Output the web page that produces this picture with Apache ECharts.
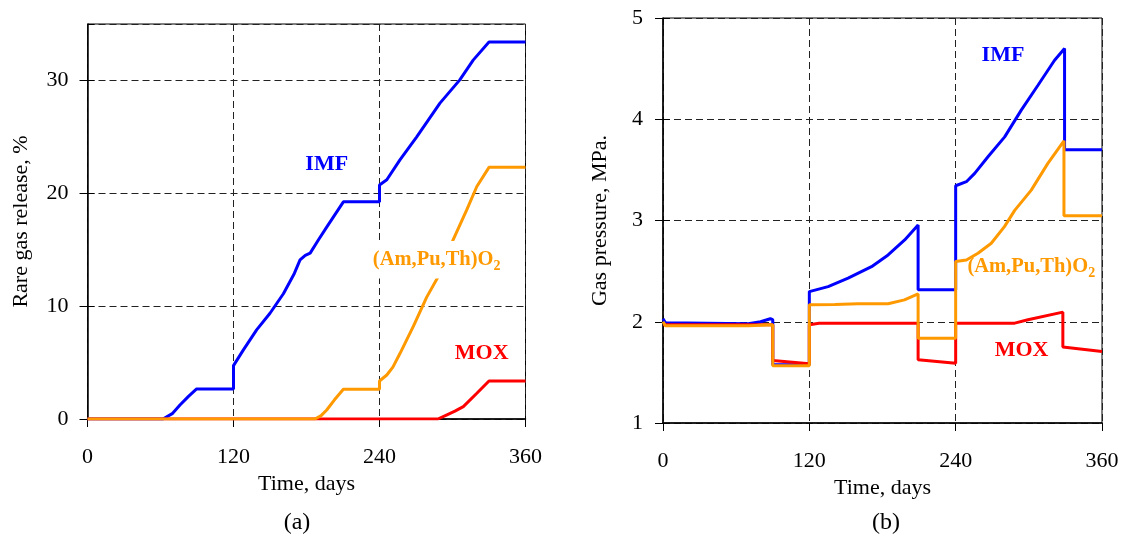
<!DOCTYPE html>
<html>
<head>
<meta charset="utf-8">
<script src="https://cdn.jsdelivr.net/npm/echarts@6/dist/echarts.min.js"></script>
<style>
  html, body { margin: 0; padding: 0; background: #fff; }
  #chart { width: 1126px; height: 542px; }
</style>
</head>
<body>
<div id="chart"></div>
<script>
const FONT = '"Times New Roman", "Liberation Serif", serif';
const BLUE = '#0000ff', ORANGE = '#ff9900', RED = '#ff0000';

// Time axis (days), shared by both panels
const timeMin = 0, timeMax = 360, timeStep = 120;

// Panel (a): rare gas release, %  — [day, value]
const releaseIMF = [[0,0],[62,0],[70,0.5],[76,1.24],[83,2.0],[89.7,2.66],[120,2.66],[120,4.73],[128,6.1],[139,7.9],[150,9.37],[161,11.1],[170,12.9],[174.7,14.1],[179,14.5],[183,14.7],[190,15.9],[196.6,17.0],[210.3,19.24],[240,19.24],[240,20.74],[246,21.2],[256.8,22.96],[270.6,25.0],[289.7,27.99],[306,30.05],[317,31.8],[330,33.4],[360,33.4]];
const releaseAmPuTh = [[0,0],[187,0],[192,0.3],[196.6,0.8],[203,1.7],[210.3,2.63],[240,2.63],[240,3.37],[246,3.9],[251,4.6],[256.8,5.8],[267.8,8.2],[278.8,10.8],[289.7,12.9],[300.6,15.9],[311.6,18.5],[320,20.6],[330,22.3],[360,22.3]];
const releaseMOX = [[0,0],[288,0],[295,0.35],[302,0.7],[308.9,1.1],[320,2.28],[330,3.37],[360,3.37]];
const releaseAxis = { min: 0, max: 35, step: 10 };

// Panel (b): gas pressure, MPa — [day, value]
const pressureIMF = [[0,2.03],[2,1.99],[70,1.98],[80,2.0],[88,2.03],[90,2.02],[90,1.575],[120,1.575],[120,2.298],[135.4,2.347],[151.8,2.43],[171,2.544],[184.6,2.66],[198.2,2.808],[209.2,2.956],[209.2,2.315],[240,2.315],[240,3.343],[248.8,3.383],[255.6,3.465],[266.5,3.63],[280.2,3.826],[293.8,4.09],[307.5,4.336],[321.1,4.583],[329.3,4.698],[329.3,3.70],[360,3.70]];
const pressureAmPuTh = [[0,2.0],[2,1.96],[70,1.96],[90,1.97],[90,1.565],[120,1.565],[120,2.167],[141,2.17],[160,2.177],[184.6,2.177],[198,2.216],[209.2,2.275],[209.2,1.838],[240,1.838],[240,2.594],[248.8,2.61],[258.3,2.677],[269.2,2.775],[280,2.94],[288.4,3.10],[302,3.30],[315.6,3.564],[328.8,3.787],[328.8,3.047],[360,3.047]];
const pressureMOX = [[0,1.97],[90,1.97],[90,1.617],[120,1.585],[120,1.97],[128,1.986],[209.2,1.986],[209.2,1.624],[240,1.59],[240,1.986],[288.4,1.986],[299.3,2.02],[327.9,2.095],[327.9,1.75],[360,1.706]];
const pressureAxis = { min: 1, max: 5, step: 1 };

// Where the series names sit, in data coordinates
const labelPosA = { IMF: [196.6, 22.6], AmPuTh: [287, 14.1], MOX: [324, 5.8] };
const labelPosB = { IMF: [278.8, 4.63], AmPuTh: [302, 2.545], MOX: [294, 1.72] };

const seriesNames = { IMF: 'IMF', AmPuTh: '(Am,Pu,Th)O{sub|2}', MOX: 'MOX' };

function nameTag(text, coord, color, size, boxed) {
  return {
    symbol: 'circle', symbolSize: 0, silent: true,
    data: [{ coord: coord }],
    label: {
      show: true, position: 'inside', formatter: text,
      color: color, fontFamily: FONT, fontWeight: 'bold', fontSize: size,
      backgroundColor: boxed ? '#fff' : 'transparent',
      padding: boxed ? [5, 2, 5, 2] : 0,
      rich: {
        sub: { color: color, fontFamily: FONT, fontWeight: 'bold', fontSize: Math.round(size * 0.7),
               lineHeight: size + 7, verticalAlign: 'bottom' }
      }
    }
  };
}

function line(name, data, color, xi, yi, tag) {
  return {
    name: name, type: 'line', data: data, xAxisIndex: xi, yAxisIndex: yi,
    showSymbol: false, symbol: 'none', smooth: false, animation: false,
    lineStyle: { color: color, width: 3 }, itemStyle: { color: color },
    z: 3, markPoint: tag
  };
}

const dashed = { show: true, lineStyle: { color: '#222', width: 1, type: [7, 4] } };
const axisText = { color: '#000', fontFamily: FONT, fontSize: 22 };

function xAxisFor(gi) {
  return {
    type: 'value', gridIndex: gi, min: timeMin, max: timeMax, interval: timeStep,
    name: 'Time, days', nameLocation: 'middle', nameGap: 52,
    nameTextStyle: axisText,
    axisLine: { show: true, onZero: false, lineStyle: { color: '#000', width: 1.5 } },
    axisTick: { show: true, length: 8, lineStyle: { color: '#000', width: 1 } },
    axisLabel: Object.assign({ margin: 27 }, axisText),
    splitLine: dashed
  };
}

function yAxisFor(gi, rng, title, gap, margin) {
  return {
    type: 'value', gridIndex: gi, min: rng.min, max: rng.max, interval: rng.step,
    name: title, nameLocation: 'middle', nameGap: gap, nameRotate: 90,
    nameTextStyle: axisText,
    axisLine: { show: true, onZero: false, lineStyle: { color: '#000', width: 1.5 } },
    axisTick: { show: true, length: 8, lineStyle: { color: '#000', width: 1 } },
    axisLabel: Object.assign({ margin: margin, showMaxLabel: rng.max % rng.step === 0 }, axisText),
    splitLine: dashed
  };
}

// inner half of the crossing tick marks on the value axes
function innerTicks(gi, rng) {
  return {
    type: 'value', gridIndex: gi, min: rng.min, max: rng.max, interval: rng.step,
    position: 'left',
    axisLine: { show: false },
    axisTick: { show: true, inside: true, length: 7, lineStyle: { color: '#000', width: 1 } },
    axisLabel: { show: false }, splitLine: { show: false }
  };
}

const chart = echarts.init(document.getElementById('chart'), null, { renderer: 'canvas' });

chart.setOption({
  animation: false,
  backgroundColor: '#fff',
  grid: [
    { left: 87.5, top: 24, width: 438, height: 395, show: true, borderColor: '#000', borderWidth: 1, backgroundColor: 'transparent' },
    { left: 663, top: 18, width: 439, height: 405, show: true, borderColor: '#000', borderWidth: 1, backgroundColor: 'transparent' }
  ],
  xAxis: [xAxisFor(0), xAxisFor(1)],
  yAxis: [
    yAxisFor(0, releaseAxis, 'Rare gas release, %', 55, 19),
    yAxisFor(1, pressureAxis, 'Gas pressure, MPa.', 52, 20),
    innerTicks(0, releaseAxis),
    innerTicks(1, pressureAxis)
  ],
  series: [
    line('IMF', releaseIMF, BLUE, 0, 0, nameTag(seriesNames.IMF, labelPosA.IMF, BLUE, 22, false)),
    line('MOX', releaseMOX, RED, 0, 0, nameTag(seriesNames.MOX, labelPosA.MOX, RED, 22, false)),
    line('(Am,Pu,Th)O2', releaseAmPuTh, ORANGE, 0, 0, nameTag(seriesNames.AmPuTh, labelPosA.AmPuTh, ORANGE, 20.5, true)),
    line('IMF', pressureIMF, BLUE, 1, 1, nameTag(seriesNames.IMF, labelPosB.IMF, BLUE, 22, false)),
    line('MOX', pressureMOX, RED, 1, 1, nameTag(seriesNames.MOX, labelPosB.MOX, RED, 22, false)),
    line('(Am,Pu,Th)O2', pressureAmPuTh, ORANGE, 1, 1, nameTag(seriesNames.AmPuTh, labelPosB.AmPuTh, ORANGE, 20.5, false))
  ],
  graphic: [
    { type: 'text', x: 297, y: 523, style: { text: '(a)', fill: '#000', font: '24px ' + FONT, align: 'center', verticalAlign: 'middle', textAlign: 'center', textVerticalAlign: 'middle' } },
    { type: 'text', x: 886, y: 523, style: { text: '(b)', fill: '#000', font: '24px ' + FONT, align: 'center', verticalAlign: 'middle', textAlign: 'center', textVerticalAlign: 'middle' } }
  ]
});
</script>
</body>
</html>
